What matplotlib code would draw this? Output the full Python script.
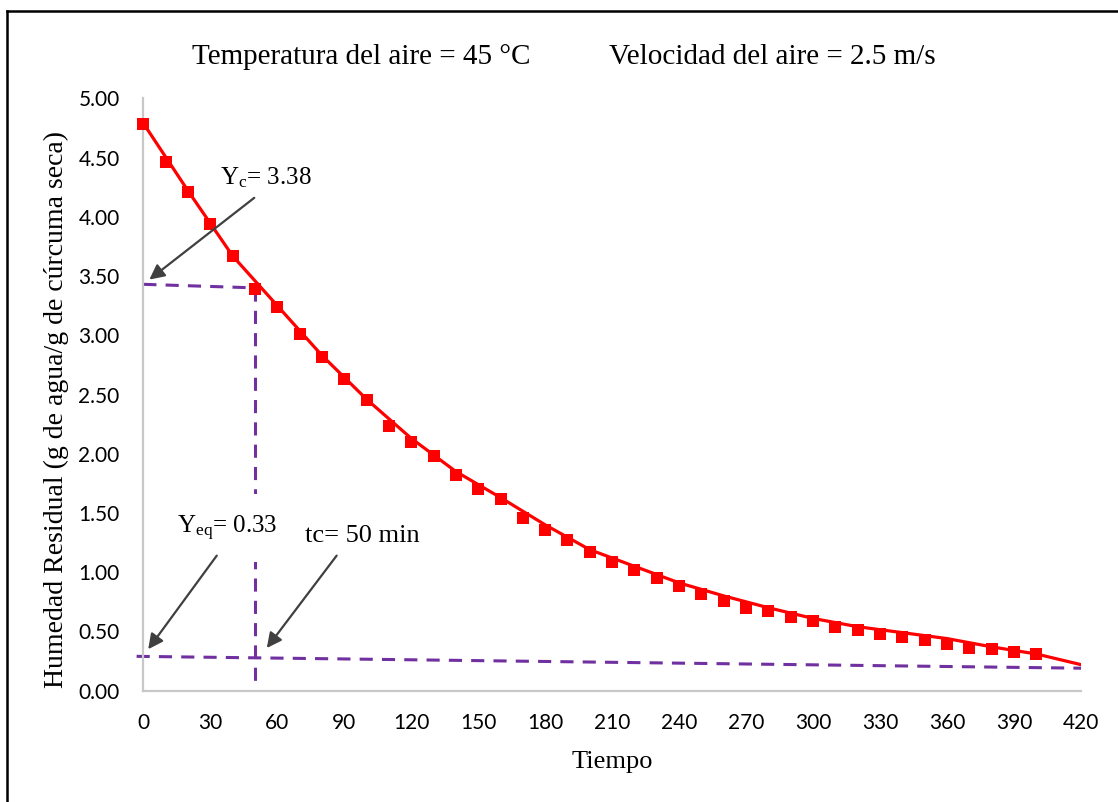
import matplotlib
matplotlib.use("Agg")
import matplotlib.pyplot as plt
from matplotlib.lines import Line2D

# ---- data ----
tiempo = list(range(0, 401, 10))
humedad = [4.78, 4.46, 4.21, 3.94, 3.67, 3.39, 3.24, 3.01, 2.82, 2.63,
           2.45, 2.23, 2.10, 1.98, 1.82, 1.70, 1.62, 1.46, 1.36, 1.27,
           1.17, 1.09, 1.02, 0.95, 0.88, 0.82, 0.76, 0.70, 0.67, 0.62,
           0.59, 0.54, 0.51, 0.48, 0.45, 0.43, 0.39, 0.36, 0.35, 0.33, 0.31]

ajuste_t = [0, 20, 40, 60, 80, 100, 120, 140, 160, 180, 200, 220, 240,
            260, 280, 300, 320, 340, 360, 380, 400, 420]
ajuste_y = [4.79, 4.22, 3.67, 3.25, 2.83, 2.46, 2.13, 1.85, 1.63, 1.40,
            1.19, 1.05, 0.91, 0.80, 0.70, 0.61, 0.54, 0.49, 0.44, 0.37,
            0.31, 0.22]

# critical / equilibrium guide lines
yc_line_t = [0, 50]
yc_line_y = [3.43, 3.40]
tc_line_t = [50, 50]
tc_line_y = [3.40, 0.08]
yeq_line_t = [-3, 420]
yeq_line_y = [0.29, 0.19]

xticks = list(range(0, 421, 30))
yticks = [0.0, 0.5, 1.0, 1.5, 2.0, 2.5, 3.0, 3.5, 4.0, 4.5, 5.0]

title_left = "Temperatura del aire = 45 \u00b0C"
title_right = "Velocidad del aire = 2.5 m/s"
xlabel_txt = "Tiempo"
ylabel_txt = "Humedad Residual (g de agua/g de c\u00farcuma seca)"

# ---- style ----
SERIF = "Liberation Serif"
SANS = "Lato"
plt.rcParams["mathtext.fontset"] = "custom"
plt.rcParams["mathtext.rm"] = SERIF
plt.rcParams["mathtext.it"] = SERIF + ":italic"

W, H = 1118, 802
fig = plt.figure(figsize=(W / 100, H / 100), dpi=100)
fig.patch.set_facecolor("white")

L, R, B, T = 143.3, 1081, 690.7, 98.3
ax = fig.add_axes([L / W, 1 - B / H, (R - L) / W, (B - T) / H])
ax.set_xlim(0, 420)
ax.set_ylim(0, 5)

for s in ["top", "right"]:
    ax.spines[s].set_visible(False)
for s in ["left", "bottom"]:
    ax.spines[s].set_color("#c8c8c8")
    ax.spines[s].set_linewidth(1.6)

ax.set_xticks(xticks)
ax.set_yticks(yticks)
ax.set_yticklabels([f"{v:.2f}" for v in yticks])
ax.tick_params(axis="both", length=0, labelsize=15, colors="black")
ax.tick_params(axis="y", pad=17)
ax.tick_params(axis="x", pad=16)
for lab in ax.get_xticklabels() + ax.get_yticklabels():
    lab.set_fontfamily(SANS)

purple = "#7030A0"
dash = (4.3, 3.0)
for tx, ty in [(yc_line_t, yc_line_y), (tc_line_t, tc_line_y), (yeq_line_t, yeq_line_y)]:
    ax.plot(tx, ty, color=purple, lw=2.2, dashes=dash, clip_on=False, zorder=2)

ax.plot(ajuste_t, ajuste_y, color="#ff0000", lw=2.3, zorder=3)
ax.plot(tiempo, humedad, linestyle="none", marker="s", markersize=8.6,
        color="#ff0000", markeredgewidth=0, zorder=4, clip_on=False)

ax.set_xlabel(xlabel_txt, fontfamily=SERIF, fontsize=19, labelpad=13)
ax.set_ylabel(ylabel_txt, fontfamily=SERIF, fontsize=20)
ax.yaxis.set_label_coords(-0.079, 0.4755)

fig.text(192 / W, 1 - 57 / H, title_left, fontfamily=SERIF,
         fontsize=21, ha="left", va="center")
fig.text(609 / W, 1 - 57 / H, title_right, fontfamily=SERIF,
         fontsize=21, ha="left", va="center")

arrow_kw = dict(arrowstyle="-|>,head_length=0.9,head_width=0.45",
                color="#404040", lw=1.6, shrinkA=0, shrinkB=0)

# Yc annotation
ax.text(34.4, 4.27, r"Y$_{\mathrm{c}}$= 3.38", fontfamily=SERIF, fontsize=18,
        ha="left", va="baseline", zorder=6)
ax.annotate("", xy=(2.7, 3.47), xytext=(49.7, 4.16), arrowprops=arrow_kw, zorder=7)

# Yeq annotation (white text box hides part of the vertical guide)
ax.text(14.9, 1.331, r"Y$_{\mathrm{eq}}$= 0.33", fontfamily=SERIF, fontsize=18,
        ha="left", va="baseline", zorder=6,
        bbox=dict(facecolor="white", edgecolor="none", pad=14))
ax.annotate("", xy=(2.2, 0.35), xytext=(32.9, 1.14), arrowprops=arrow_kw, zorder=7)

# tc annotation
ax.text(72.4, 1.258, "tc= 50 min", fontfamily=SERIF, fontsize=19,
        ha="left", va="baseline", zorder=6)
ax.annotate("", xy=(55.3, 0.36), xytext=(86.6, 1.14), arrowprops=arrow_kw, zorder=7)

# outer frame (left and top edges visible)
fx = 7 / W
fy = 1 - 10.5 / H
fig.add_artist(Line2D([fx, 1.0], [fy, fy], transform=fig.transFigure, color="black", lw=1.8))
fig.add_artist(Line2D([fx, fx], [0.0, fy], transform=fig.transFigure, color="black", lw=1.8))

fig.savefig("out.png", dpi=100, facecolor="white")
